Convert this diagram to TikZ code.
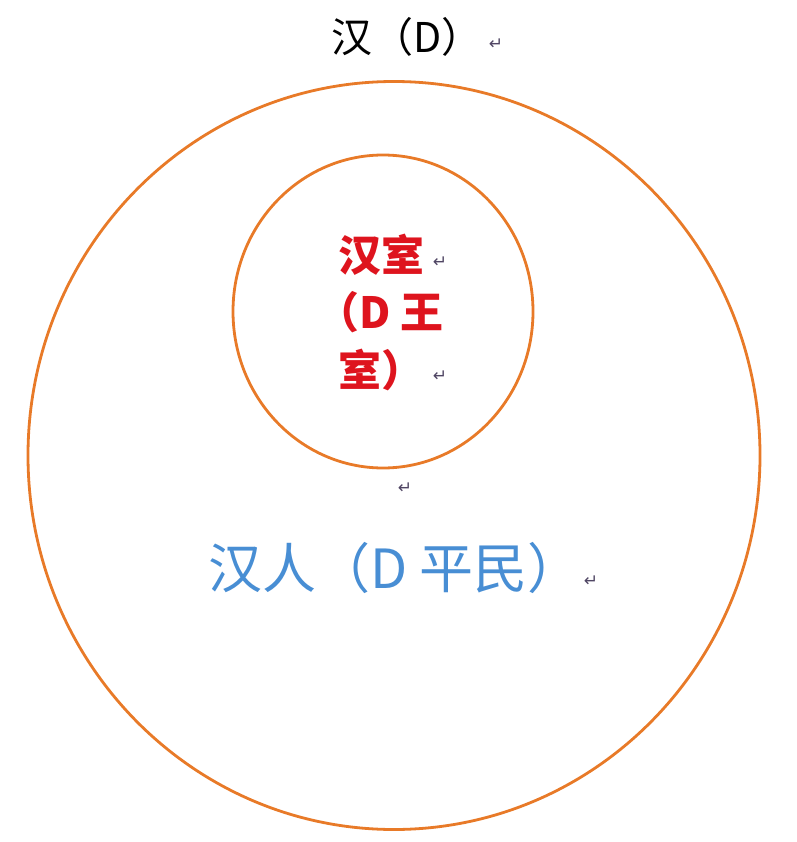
\documentclass[tikz,border=0pt]{standalone}
\usepackage{fontspec}
\newfontfamily\cjk{Noto Sans CJK SC}
\newfontfamily\symfont{DejaVu Sans}
\usepackage{tikz}
\usetikzlibrary{positioning}

\definecolor{ringorange}{RGB}{232,122,40}
\definecolor{royalred}{RGB}{222,20,30}
\definecolor{commonblue}{RGB}{72,142,212}
\definecolor{markgray}{RGB}{80,70,100}

\begin{document}
\begin{tikzpicture}[x=1pt,y=-1pt,inner sep=0pt,outer sep=0pt]
       \tikzstyle{ring}=[draw=ringorange,line width=2.8pt]
       \tikzstyle{parmark}=[font=\symfont\fontsize{17}{17}\selectfont,text=markgray]

       \useasboundingbox (0,0) rectangle (796,842);

       % rings
       \draw[ring] (394,455.5) ellipse [x radius=366pt,y radius=374pt];
       \draw[ring] (383,311.5) ellipse [x radius=150pt,y radius=156.5pt];

       % labels
       \node[anchor=base west,font=\cjk\fontsize{41}{41}\selectfont]
             (han) at (331,53) {汉（D）};
       \node[anchor=base west,align=left,text=royalred,
             font=\cjk\bfseries\fontsize{43}{57.5}\selectfont]
             (royal) at (338,386) {汉室\\\hspace*{-0.5em}（D 王\\室）};
       \node[anchor=base west,text=commonblue,font=\cjk\fontsize{54}{54}\selectfont]
             (people) at (208,588.5) {汉人（D 平民）};

       % paragraph marks
       \node[parmark] (m_0) at (496,44)  {↵};
       \node[parmark] (m_1) at (440,262) {↵};
       \node[parmark] (m_2) at (440,376) {↵};
       \node[parmark] (m_3) at (405,488) {↵};
       \node[parmark] (m_4) at (591,581) {↵};
     \end{tikzpicture}
\end{document}
